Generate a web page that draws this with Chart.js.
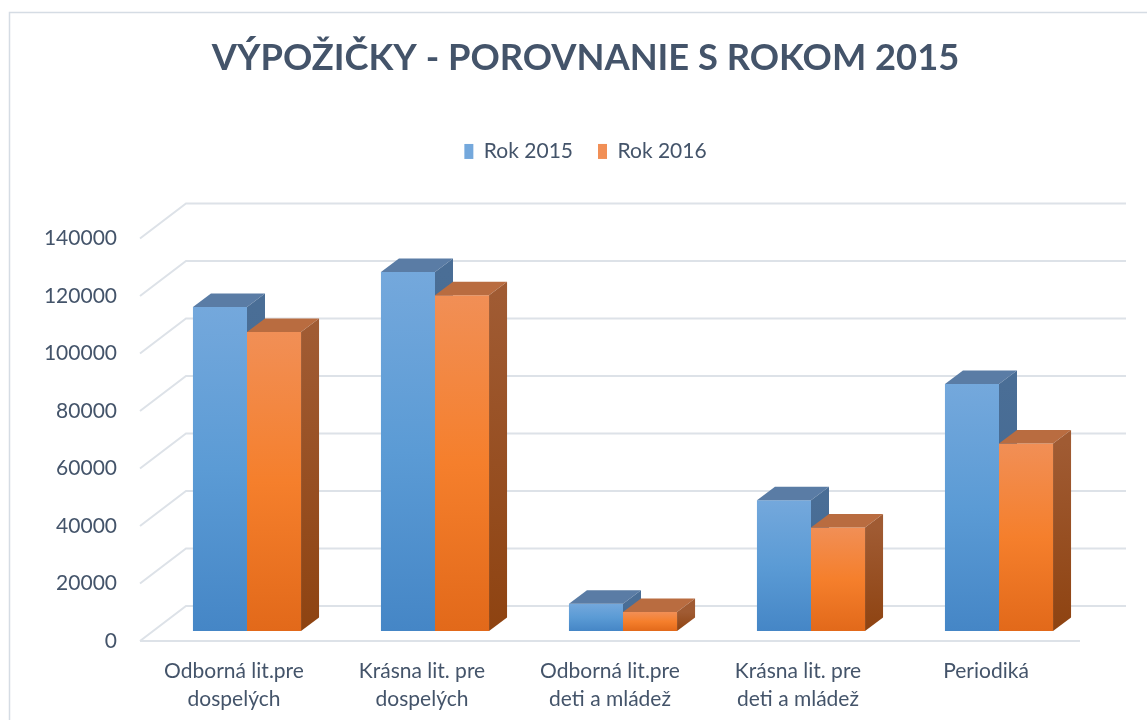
<!DOCTYPE html>
<html lang="sk">
<head>
<meta charset="utf-8">
<title>Výpožičky - porovnanie s rokom 2015</title>
<script src="https://cdn.jsdelivr.net/npm/chart.js@4.4.1/dist/chart.umd.min.js"></script>
<style>
  html, body { margin: 0; padding: 0; background: #fff; }
  #wrap { width: 1147px; height: 720px; }
</style>
</head>
<body>
<div id="wrap"><canvas id="chart" width="1147" height="720"></canvas></div>
<script>
// values
const categories = [
  ['Odborná lit.pre', 'dospelých'],
  ['Krásna lit. pre', 'dospelých'],
  ['Odborná lit.pre', 'deti a mládež'],
  ['Krásna lit. pre', 'deti a mládež'],
  'Periodiká'
]
const seriesNames = ['Rok 2015', 'Rok 2016']
const rok2015 = [112700, 124900, 9500, 45500, 85900]
const rok2016 = [104000, 116800, 6600, 36000, 65200]
const yTicks = { min: 0, max: 140000, step: 20000 }

// fake 3d look (Excel style column chart)
const WALL_DX = 46, WALL_DY = -35
const BAR_DX = 13, BAR_DY = -10
const DEPTH_DX = 18, DEPTH_DY = -13.5

const textColor = '#44546A'
const gridColor = '#DDE2E8'

const palette = [
  { front: ['#74A8DC', '#5B9BD5', '#4586C6'], top: '#5A7CA5', side: ['#4A6E96', '#3F6690'], solid: '#5B9BD5' },
  { front: ['#F18F56', '#F57F2C', '#E2691A'], top: '#B96C40', side: ['#A05B33', '#8E4311'], solid: '#F47E2E' }
]

function frontFill(ctx, i) {
  const p = palette[i]
  const chart = ctx.chart
  const y = chart.scales && chart.scales.y
  if (!chart.chartArea || !y || ctx.type !== 'data') return p.solid
  const top = y.getPixelForValue(ctx.raw)
  const base = y.getPixelForValue(0)
  if (!(base - top > 0)) return p.solid
  const g = chart.ctx.createLinearGradient(0, top, 0, base)
  g.addColorStop(0, p.front[0])
  g.addColorStop(0.5, p.front[1])
  g.addColorStop(1, p.front[2])
  return g
}

function drawFaces(ctx, meta) {
  const p = palette[meta.index]
  meta.data.forEach(bar => {
    const { x, y, base, width } = bar.getProps(['x', 'y', 'base', 'width'], true)
    const l = x - width / 2, r = x + width / 2
    // top face
    ctx.fillStyle = p.top
    ctx.beginPath()
    ctx.moveTo(l, y)
    ctx.lineTo(l + DEPTH_DX, y + DEPTH_DY)
    ctx.lineTo(r + DEPTH_DX, y + DEPTH_DY)
    ctx.lineTo(r, y)
    ctx.closePath()
    ctx.fill()
    // right side
    const g = ctx.createLinearGradient(0, y, 0, base)
    g.addColorStop(0, p.side[0])
    g.addColorStop(1, p.side[1])
    ctx.fillStyle = g
    ctx.beginPath()
    ctx.moveTo(r, y)
    ctx.lineTo(r + DEPTH_DX, y + DEPTH_DY)
    ctx.lineTo(r + DEPTH_DX, base + DEPTH_DY)
    ctx.lineTo(r, base)
    ctx.closePath()
    ctx.fill()
  })
}

const depthPlugin = {
  id: 'depth3d',
  beforeDraw(chart) {
    const ctx = chart.ctx
    ctx.save()
    ctx.strokeStyle = '#D5DCE4'
    ctx.lineWidth = 1.5
    ctx.strokeRect(9.5, 12.5, 1400, 900)
    ctx.restore()
  },
  beforeDatasetsDraw(chart) {
    const { ctx, chartArea: { left, right }, scales: { y } } = chart
    ctx.save()
    ctx.strokeStyle = gridColor
    ctx.lineWidth = 2
    y.ticks.forEach(t => {
      const py = y.getPixelForValue(t.value)
      ctx.beginPath()
      ctx.moveTo(left, py)
      ctx.lineTo(left + WALL_DX, py + WALL_DY)
      ctx.lineTo(right + WALL_DX, py + WALL_DY)
      ctx.stroke()
    })
    const p0 = y.getPixelForValue(0)
    ctx.beginPath()
    ctx.moveTo(left, p0)
    ctx.lineTo(right, p0)
    ctx.stroke()
    ctx.restore()
  },
  // bars are drawn below, left series first so the right one hides its side
  beforeDatasetDraw() {
    return false
  },
  afterDatasetsDraw(chart) {
    const ctx = chart.ctx
    ctx.save()
    ctx.translate(BAR_DX, BAR_DY)
    chart.data.datasets.forEach((ds, i) => {
      const meta = chart.getDatasetMeta(i)
      meta.controller.draw()
      drawFaces(ctx, meta)
    })
    ctx.restore()
  }
}

function draw() {
  Chart.defaults.font.family = 'Lato, "Open Sans", sans-serif'
  Chart.defaults.color = textColor

  new Chart(document.getElementById('chart'), {
    type: 'bar',
    data: {
      labels: categories,
      datasets: [
        { label: seriesNames[0], data: rok2015, backgroundColor: c => frontFill(c, 0) },
        { label: seriesNames[1], data: rok2016, backgroundColor: c => frontFill(c, 1) }
      ]
    },
    options: {
      responsive: false,
      animation: false,
      layout: { padding: { left: 40, right: 16, top: 0, bottom: 0 } },
      datasets: {
        bar: { categoryPercentage: 0.575, barPercentage: 1, borderWidth: 0, clip: false }
      },
      plugins: {
        title: {
          display: true,
          text: 'VÝPOŽIČKY - POROVNANIE S ROKOM 2015',
          color: textColor,
          font: { size: 36.3, weight: 'bold' },
          padding: { top: 37, bottom: 35.4 }
        },
        legend: {
          display: true,
          position: 'top',
          labels: {
            boxWidth: 9,
            boxHeight: 15,
            padding: 25,
            color: textColor,
            font: { size: 21 }
          }
        },
        tooltip: { enabled: false }
      },
      scales: {
        x: {
          position: 'bottom',
          grid: { display: false, drawTicks: false },
          border: { display: false },
          ticks: { padding: 16, maxRotation: 0, autoSkip: false, font: { size: 21, lineHeight: 1.33 } },
          afterFit: s => { s.height = 79 }
        },
        xSpacer: {
          type: 'category',
          position: 'top',
          grid: { display: false, drawTicks: false },
          border: { display: false },
          ticks: { display: false },
          afterFit: s => { s.height = 66.6 }
        },
        y: {
          min: yTicks.min,
          max: yTicks.max,
          grid: { display: false, drawTicks: false },
          border: { display: false },
          ticks: {
            stepSize: yTicks.step,
            padding: 23,
            font: { size: 21 },
            callback: v => String(v)
          },
          afterFit: s => { s.width = 100 }
        },
        ySpacer: {
          type: 'linear',
          position: 'right',
          grid: { display: false, drawTicks: false },
          border: { display: false },
          ticks: { display: false },
          afterFit: s => { s.width = 51 }
        }
      }
    },
    plugins: [depthPlugin]
  })
}

Promise.all([
  document.fonts.load('bold 36px Lato'),
  document.fonts.load('21px Lato')
]).then(draw, draw)
</script>
</body>
</html>
